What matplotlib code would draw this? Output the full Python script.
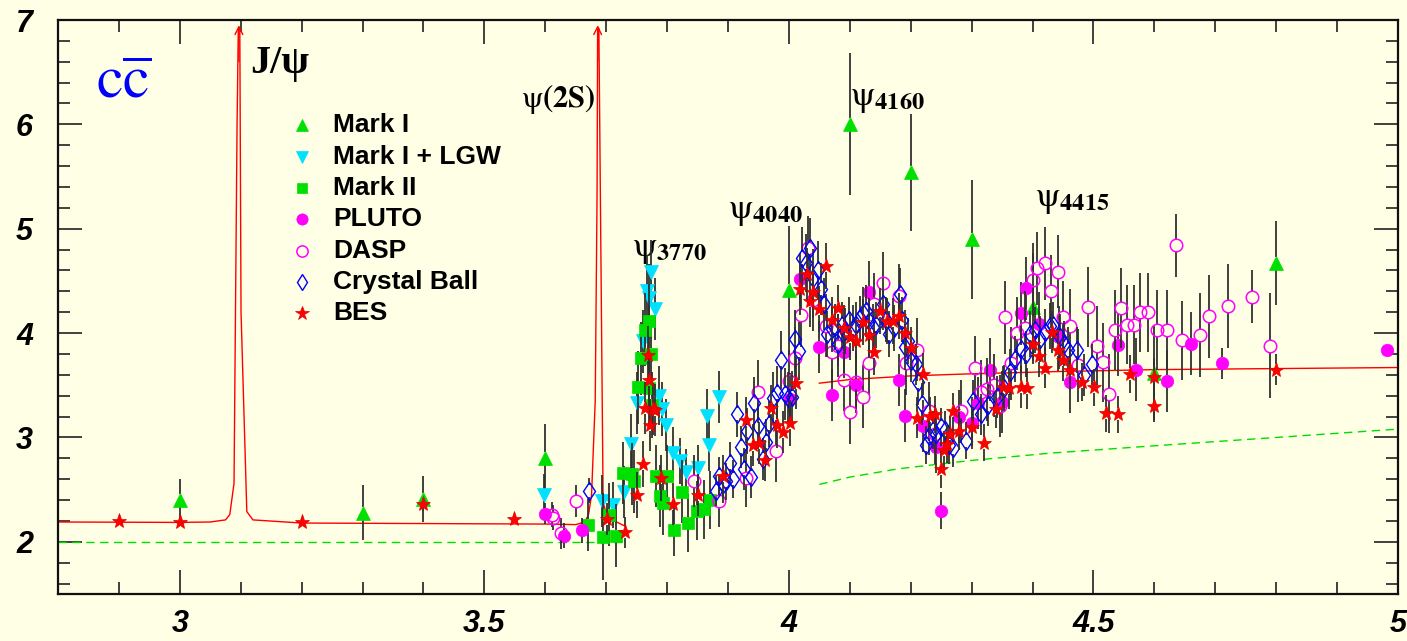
import matplotlib
matplotlib.use('Agg')
import matplotlib.pyplot as plt
import numpy as np
from matplotlib.ticker import MultipleLocator, FormatStrFormatter

plt.rcParams['mathtext.fontset'] = 'stix'

# ---------------- data ----------------
markI_x = [3.00, 3.30, 3.40, 3.60, 4.00, 4.10, 4.20, 4.30, 4.40, 4.60, 4.80]
markI_y = [2.40, 2.28, 2.41, 2.80, 4.41, 6.00, 5.54, 4.90, 4.25, 3.62, 4.67]
markI_e = [0.20, 0.26, 0.22, 0.33, 0.62, 0.68, 0.56, 0.57, 0.52, 0.45, 0.40]

lgw_x = [3.598, 3.693, 3.711, 3.729, 3.740, 3.750, 3.761, 3.767, 3.771, 3.774, 3.780,
         3.786, 3.791, 3.799, 3.809, 3.821, 3.831, 3.851, 3.865, 3.869, 3.886]
lgw_y = [2.45, 2.39, 2.35, 2.48, 2.94, 3.33, 3.92, 4.40, 4.34, 4.59, 4.23,
         3.40, 3.27, 3.12, 2.85, 2.77, 2.67, 2.71, 3.21, 2.93, 3.39]
lgw_e = [0.20, 0.25, 0.22, 0.25, 0.28, 0.30, 0.30, 0.35, 0.32, 0.30, 0.30,
         0.28, 0.26, 0.25, 0.25, 0.22, 0.22, 0.22, 0.25, 0.25, 0.25]

markII_x = [3.670, 3.695, 3.704, 3.716, 3.728, 3.742, 3.746, 3.753, 3.757, 3.764, 3.771, 3.771,
            3.774, 3.776, 3.782, 3.789, 3.794, 3.800, 3.811, 3.824, 3.835, 3.849, 3.861, 3.871]
markII_y = [2.16, 2.05, 2.26, 2.06, 2.66, 2.65, 2.58, 3.48, 3.76, 4.03, 4.12, 3.47,
            3.80, 3.31, 2.63, 2.44, 2.37, 2.63, 2.11, 2.48, 2.18, 2.30, 2.31, 2.40]
markII_e = [0.25, 0.42, 0.30, 0.30, 0.30, 0.30, 0.30, 0.35, 0.35, 0.35, 0.35, 0.35,
            0.35, 0.32, 0.30, 0.30, 0.30, 0.30, 0.25, 0.30, 0.28, 0.28, 0.28, 0.28]

pluto_x = [3.600, 3.630, 3.660, 4.001, 4.019, 4.050, 4.070, 4.091, 4.110, 4.131, 4.180,
           4.190, 4.220, 4.242, 4.250, 4.280, 4.300, 4.311, 4.330, 4.350, 4.381, 4.390,
           4.410, 4.443, 4.461, 4.540, 4.570, 4.620, 4.660, 4.711, 4.982]
pluto_y = [2.27, 2.06, 2.11, 3.37, 4.52, 3.87, 3.41, 3.82, 3.50, 4.39, 3.55,
           3.21, 3.11, 2.91, 2.30, 3.20, 3.14, 3.33, 3.65, 3.34, 4.19, 4.43,
           4.09, 3.96, 3.53, 3.89, 3.65, 3.54, 3.90, 3.71, 3.84]
pluto_e = [0.10, 0.12, 0.12, 0.25, 0.25, 0.25, 0.25, 0.25, 0.25, 0.30, 0.25,
           0.25, 0.25, 0.25, 0.18, 0.25, 0.25, 0.25, 0.30, 0.30, 0.30, 0.30,
           0.30, 0.30, 0.30, 0.30, 0.30, 0.30, 0.30, 0.15, 0.00]

dasp_x = [3.611, 3.613, 3.625, 3.650, 3.844, 3.886, 3.930, 3.950, 3.978, 4.000, 4.010,
          4.020, 4.031, 4.039, 4.061, 4.070, 4.080, 4.091, 4.100, 4.110, 4.121, 4.131,
          4.140, 4.155, 4.180, 4.192, 4.211, 4.230, 4.240, 4.283, 4.305, 4.316, 4.325,
          4.336, 4.346, 4.355, 4.364, 4.375, 4.388, 4.400, 4.408, 4.421, 4.430, 4.441,
          4.450, 4.462, 4.474, 4.491, 4.505, 4.515, 4.526, 4.536, 4.545, 4.555, 4.567,
          4.576, 4.590, 4.605, 4.620, 4.636, 4.645, 4.675, 4.690, 4.721, 4.760, 4.790]
dasp_y = [2.26, 2.23, 2.08, 2.39, 2.58, 2.39, 2.61, 3.44, 2.87, 3.54, 3.76,
          4.17, 4.82, 4.32, 4.07, 3.82, 3.88, 3.55, 3.24, 3.53, 3.39, 3.71,
          4.28, 4.48, 4.36, 3.71, 3.84, 3.25, 3.03, 3.25, 3.67, 3.44, 3.46,
          3.50, 3.30, 4.15, 3.71, 4.00, 4.05, 4.51, 4.62, 4.67, 4.40, 4.59,
          4.15, 4.07, 3.69, 4.25, 3.88, 3.72, 3.42, 4.03, 4.24, 4.08, 4.08,
          4.20, 4.20, 4.03, 4.03, 4.84, 3.93, 3.98, 4.16, 4.26, 4.35, 3.88]
dasp_e = [0.12, 0.12, 0.15, 0.15, 0.25, 0.25, 0.28, 0.30, 0.30, 0.30, 0.30,
          0.30, 0.30, 0.30, 0.30, 0.30, 0.30, 0.30, 0.30, 0.30, 0.30, 0.30,
          0.30, 0.30, 0.30, 0.30, 0.30, 0.28, 0.28, 0.30, 0.30, 0.30, 0.30,
          0.30, 0.30, 0.35, 0.35, 0.35, 0.35, 0.35, 0.35, 0.35, 0.35, 0.35,
          0.35, 0.35, 0.35, 0.38, 0.38, 0.38, 0.38, 0.38, 0.38, 0.38, 0.38,
          0.38, 0.38, 0.38, 0.38, 0.30, 0.38, 0.40, 0.40, 0.40, 0.25, 0.50]

cb_x = [3.671, 3.880, 3.885, 3.892, 3.897, 3.903, 3.908, 3.914, 3.921, 3.926, 3.932,
        3.937, 3.943, 3.950, 3.957, 3.962, 3.968, 3.974, 3.981, 3.987, 3.993, 3.999,
        4.005, 4.010, 4.017, 4.022, 4.028, 4.034, 4.040, 4.047, 4.053, 4.058, 4.063,
        4.070, 4.076, 4.081, 4.087, 4.092, 4.099, 4.105, 4.110, 4.116, 4.121, 4.127,
        4.132, 4.138, 4.143, 4.154, 4.160, 4.165, 4.172, 4.183, 4.185, 4.190, 4.195,
        4.201, 4.208, 4.212, 4.219, 4.225, 4.230, 4.236, 4.242, 4.249, 4.257, 4.263,
        4.270, 4.290, 4.303, 4.315, 4.327, 4.342, 4.353, 4.363, 4.372, 4.381, 4.389,
        4.396, 4.404, 4.412, 4.421, 4.428, 4.434, 4.445, 4.451, 4.458, 4.473, 4.485, 4.497]
cb_y = [2.49, 2.49, 2.63, 2.55, 2.58, 2.76, 2.60, 3.22, 2.91, 2.70, 3.06,
        2.62, 3.33, 3.11, 2.79, 2.96, 3.13, 3.38, 3.43, 3.74, 3.42, 3.38,
        3.39, 3.94, 3.83, 4.72, 4.67, 4.82, 4.53, 4.60, 4.42, 4.28, 3.99,
        4.04, 4.06, 3.90, 4.08, 4.02, 4.13, 4.05, 4.08, 4.14, 4.19, 4.21,
        4.12, 4.06, 4.08, 4.28, 4.13, 3.99, 4.05, 4.37, 4.13, 3.87, 3.92,
        3.73, 3.70, 3.53, 3.32, 2.93, 3.01, 3.07, 3.03, 3.10, 3.07, 2.93,
        2.90, 2.97, 3.35, 3.22, 3.31, 3.39, 3.47, 3.63, 3.75, 3.85, 3.80,
        3.99, 4.03, 3.94, 4.01, 4.07, 4.08, 3.96, 3.90, 3.84, 3.84, 3.60, 3.70]
cb_e = [0.12, 0.15, 0.18, 0.18, 0.18, 0.20, 0.18, 0.22, 0.20, 0.20, 0.22,
        0.20, 0.25, 0.22, 0.20, 0.22, 0.22, 0.25, 0.25, 0.28, 0.25, 0.25,
        0.25, 0.28, 0.28, 0.30, 0.28, 0.28, 0.28, 0.28, 0.25, 0.25, 0.22,
        0.22, 0.22, 0.22, 0.22, 0.22, 0.22, 0.22, 0.22, 0.22, 0.25, 0.25,
        0.22, 0.22, 0.22, 0.25, 0.22, 0.22, 0.22, 0.25, 0.22, 0.22, 0.22,
        0.20, 0.20, 0.22, 0.20, 0.18, 0.18, 0.18, 0.18, 0.18, 0.18, 0.18,
        0.18, 0.18, 0.20, 0.20, 0.20, 0.20, 0.22, 0.22, 0.22, 0.22, 0.22,
        0.22, 0.22, 0.22, 0.22, 0.22, 0.22, 0.22, 0.22, 0.22, 0.22, 0.20, 0.20]

bes_x = [2.90, 3.00, 3.20, 3.40, 3.549, 3.701, 3.731, 3.750, 3.760, 3.764, 3.769,
         3.771, 3.772, 3.777, 3.780, 3.790, 3.810, 3.851, 3.891, 3.930, 3.941, 3.951,
         3.960, 3.970, 3.980, 3.991, 4.001, 4.011, 4.019, 4.029, 4.034, 4.040, 4.050,
         4.061, 4.070, 4.080, 4.091, 4.100, 4.110, 4.121, 4.131, 4.140, 4.150, 4.161,
         4.171, 4.180, 4.190, 4.200, 4.210, 4.220, 4.231, 4.240, 4.250, 4.255, 4.259,
         4.265, 4.270, 4.280, 4.300, 4.320, 4.340, 4.351, 4.361, 4.381, 4.391, 4.400,
         4.410, 4.421, 4.432, 4.441, 4.450, 4.461, 4.481, 4.501, 4.521, 4.540, 4.560,
         4.600, 4.600, 4.800]
bes_y = [2.20, 2.19, 2.19, 2.36, 2.22, 2.22, 2.09, 2.45, 2.75, 3.28, 3.79,
         3.55, 3.12, 3.27, 3.26, 2.61, 2.36, 2.45, 2.63, 3.17, 2.93, 2.95,
         2.78, 3.28, 3.12, 3.05, 3.14, 3.52, 4.42, 4.57, 4.31, 4.39, 4.23,
         4.64, 4.13, 4.24, 4.05, 3.96, 3.92, 4.11, 3.98, 3.82, 4.21, 4.12,
         4.12, 4.16, 4.00, 3.86, 3.19, 3.61, 3.21, 3.22, 2.70, 2.88, 2.94,
         3.03, 3.25, 3.06, 3.10, 2.95, 3.27, 3.48, 3.47, 3.48, 3.47, 3.90,
         3.78, 3.67, 4.01, 3.84, 3.74, 3.65, 3.53, 3.48, 3.23, 3.22, 3.61,
         3.58, 3.30, 3.65]
bes_e = [0.05, 0.05, 0.05, 0.06, 0.05, 0.15, 0.15, 0.22, 0.22, 0.25, 0.28,
         0.28, 0.25, 0.25, 0.25, 0.22, 0.20, 0.20, 0.20, 0.22, 0.20, 0.20,
         0.20, 0.22, 0.22, 0.20, 0.22, 0.25, 0.25, 0.25, 0.25, 0.25, 0.22,
         0.22, 0.22, 0.22, 0.22, 0.22, 0.22, 0.22, 0.22, 0.22, 0.22, 0.22,
         0.22, 0.22, 0.22, 0.20, 0.20, 0.20, 0.18, 0.18, 0.18, 0.18, 0.18,
         0.18, 0.18, 0.18, 0.18, 0.18, 0.18, 0.20, 0.20, 0.20, 0.20, 0.20,
         0.20, 0.20, 0.20, 0.20, 0.20, 0.20, 0.18, 0.18, 0.18, 0.18, 0.18,
         0.18, 0.15, 0.15]

qcd_x1 = [2.80, 3.00, 3.05, 3.075, 3.082, 3.089, 3.094, 3.096, 3.0985, 3.1005, 3.110, 3.120,
          3.20, 3.40, 3.60, 3.650, 3.665, 3.671, 3.676, 3.682, 3.685, 3.686, 3.688, 3.693,
          3.695, 3.702, 3.717, 3.731]
qcd_y1 = [2.19, 2.186, 2.19, 2.21, 2.26, 2.56, 6.00, 6.92, 6.92, 4.20, 2.29, 2.21,
          2.18, 2.175, 2.17, 2.165, 2.19, 2.26, 2.45, 3.35, 5.30, 6.92, 6.92, 3.67,
          2.38, 2.23, 2.19, 2.15]
qcd_x2 = [4.05, 4.10, 4.20, 4.30, 4.43, 4.60, 4.80, 5.00]
qcd_y2 = [3.52, 3.555, 3.59, 3.61, 3.63, 3.65, 3.66, 3.67]
parton_x1 = [2.80, 3.731]
parton_y1 = [2.00, 2.00]
parton_x2 = [4.05, 4.10, 4.18, 4.30, 4.43, 4.60, 4.80, 5.00]
parton_y2 = [2.55, 2.62, 2.70, 2.78, 2.85, 2.92, 3.00, 3.08]

series = [
    ("Mark I",        markI_x,  markI_y,  markI_e),
    ("Mark I + LGW",  lgw_x,    lgw_y,    lgw_e),
    ("Mark II",       markII_x, markII_y, markII_e),
    ("PLUTO",         pluto_x,  pluto_y,  pluto_e),
    ("DASP",          dasp_x,   dasp_y,   dasp_e),
    ("Crystal Ball",  cb_x,     cb_y,     cb_e),
    ("BES",           bes_x,    bes_y,    bes_e),
]
styles = {
    "Mark I":       dict(marker='^', ms=9.5, mfc='#00e000', mec='#00e000', mew=0.5),
    "Mark I + LGW": dict(marker='v', ms=9.5, mfc='#00e0ff', mec='#00e0ff', mew=0.5),
    "Mark II":      dict(marker='s', ms=8.5, mfc='#00e000', mec='#00e000', mew=0.5),
    "PLUTO":        dict(marker='o', ms=9.0, mfc='#ff00ff', mec='#ff00ff', mew=0.5),
    "DASP":         dict(marker='o', ms=9.0, mfc='none',    mec='#ff00ff', mew=1.1),
    "Crystal Ball": dict(marker='d', ms=9.5, mfc='none',    mec='#0000ff', mew=1.0),
    "BES":          dict(marker='*', ms=11.0, mfc='#ff0000', mec='#e00000', mew=0.5),
}

BG = '#ffffe6'
fig = plt.figure(figsize=(14.07, 6.41), dpi=100, facecolor=BG)
ax = fig.add_axes([58/1407, 47/641, 1340/1407, 574/641], facecolor=BG)
ax.set_xlim(2.8, 5.0)
ax.set_ylim(1.5, 7.0)

ppu = ax.get_window_extent().height / (7.0 - 1.5)
gap = 6.0 / ppu

# curves
ax.plot(qcd_x1, qcd_y1, color='#ff0000', lw=1.0, zorder=2)
ax.plot(qcd_x2, qcd_y2, color='#ff0000', lw=1.0, zorder=2)
ax.plot(parton_x1, parton_y1, color='#00dd00', lw=1.0, ls=(0, (6, 4)), zorder=2)
ax.plot(parton_x2, parton_y2, color='#00dd00', lw=1.0, ls=(0, (6, 4)), zorder=2)
for xp in (3.097, 3.686):
    ax.annotate('', xy=(xp, 6.95), xytext=(xp, 6.6),
                arrowprops=dict(arrowstyle='->', color='#ff0000', lw=1.0,
                                mutation_scale=14, shrinkA=0, shrinkB=0), zorder=2)

# data points with ROOT-like error bars (gap around marker)
z = 3
for name, xs, ys, es in series:
    xs = np.array(xs); ys = np.array(ys); es = np.array(es)
    m = es > gap
    ax.vlines(xs[m], ys[m] + gap, ys[m] + es[m], color='#303030', lw=1.3, zorder=z)
    ax.vlines(xs[m], ys[m] - es[m], ys[m] - gap, color='#303030', lw=1.3, zorder=z)
    ax.plot(xs, ys, ls='none', zorder=z + 0.5, **styles[name])
    z += 1

# legend (manual, ROOT style)
leg_y0, leg_dy = 5.99, 0.30
for i, (name, *_rest) in enumerate(series):
    yy = leg_y0 - i * leg_dy
    st = dict(styles[name])
    st['ms'] = st['ms'] * 0.9
    ax.plot([3.2007], [yy], ls='none', zorder=20, **st)
    ax.text(3.2516, yy, name, fontsize=19, fontweight='bold', family='Liberation Sans',
            va='center', ha='left', zorder=20)

# annotations
ax.text(2.862, 6.26, r'$\mathrm{c\overline{c}}$', color='#0000ff', fontsize=43,
        va='baseline', ha='left')
ax.text(3.115, 6.49, 'J/ψ', family='Liberation Serif', fontweight='bold', fontsize=29,
        va='baseline', ha='left')
ax.text(3.560, 6.17, r'$\mathrm{\psi}\mathbf{(2S)}$', fontsize=22, va='baseline', ha='left')
ax.text(3.742, 4.74, r'$\mathrm{\psi}_{\mathbf{3770}}$', fontsize=25, va='baseline', ha='left')
ax.text(3.900, 5.10, r'$\mathrm{\psi}_{\mathbf{4040}}$', fontsize=25, va='baseline', ha='left')
ax.text(4.100, 6.19, r'$\mathrm{\psi}_{\mathbf{4160}}$', fontsize=25, va='baseline', ha='left')
ax.text(4.404, 5.22, r'$\mathrm{\psi}_{\mathbf{4415}}$', fontsize=25, va='baseline', ha='left')

# axes styling
ax.xaxis.set_major_locator(MultipleLocator(0.5))
ax.xaxis.set_minor_locator(MultipleLocator(0.1))
ax.yaxis.set_major_locator(MultipleLocator(1.0))
ax.yaxis.set_minor_locator(MultipleLocator(0.2))
ax.xaxis.set_major_formatter(FormatStrFormatter('%g'))
ax.yaxis.set_major_formatter(FormatStrFormatter('%g'))
ax.tick_params(which='both', direction='in', top=True, right=True, width=1.2, color='#202020')
ax.tick_params(which='major', length=17)
ax.tick_params(which='minor', length=8.5)
ax.tick_params(axis='x', which='major', pad=11)
ax.tick_params(axis='y', which='major', pad=18)
for lab in ax.get_xticklabels() + ax.get_yticklabels():
    lab.set_fontfamily('Liberation Sans')
    lab.set_fontweight('bold')
    lab.set_fontstyle('italic')
    lab.set_fontsize(22)
for sp in ax.spines.values():
    sp.set_linewidth(1.6)
    sp.set_color('#101010')

fig.savefig('out.png', dpi=100, facecolor=BG)
